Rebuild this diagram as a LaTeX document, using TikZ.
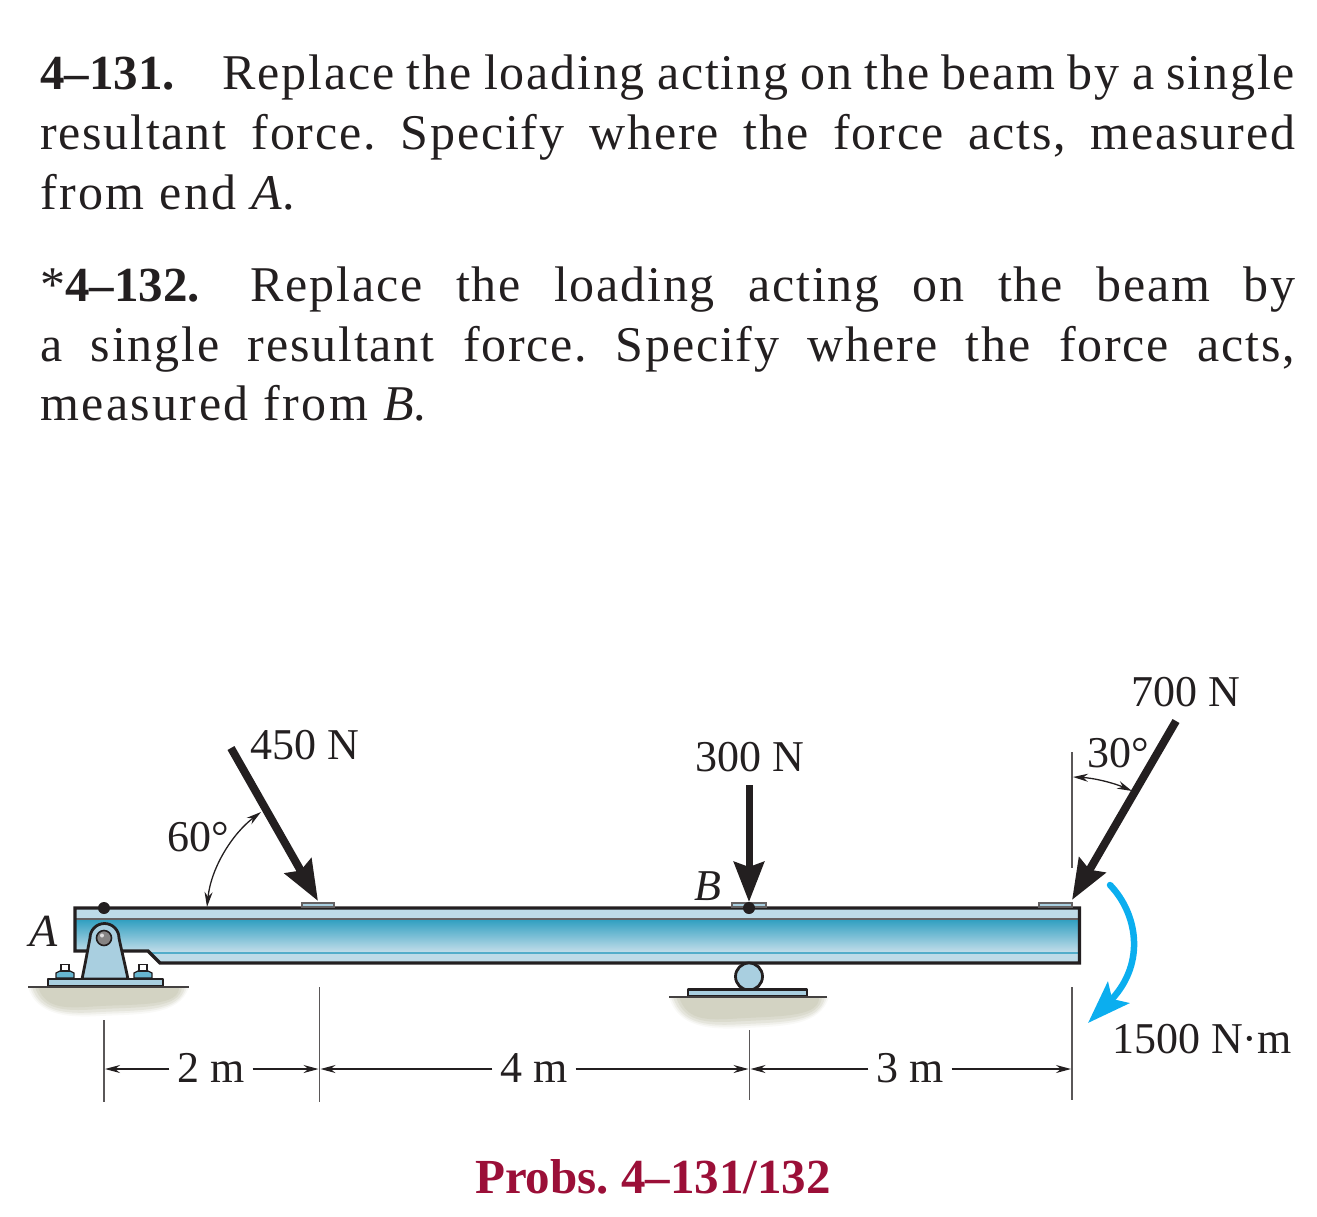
\documentclass[tikz,border=0pt]{standalone}
\usepackage{fontspec}
\setmainfont{Liberation Serif}
\newfontfamily\bodyfam[LetterSpace=3.6,Ligatures=TeX]{Liberation Serif}
\newfontfamily\bodywide[LetterSpace=4.9,Ligatures=TeX]{Liberation Serif}
\usetikzlibrary{arrows.meta}
\frenchspacing
\definecolor{ink}{HTML}{231F20}
\definecolor{lightblue}{HTML}{BDDBE8}
\definecolor{partblue}{HTML}{A9CFE0}
\definecolor{teal}{HTML}{2E9EC0}
\definecolor{momentblue}{HTML}{0BAEEF}
\definecolor{probred}{HTML}{9B0F38}
\definecolor{groundc}{HTML}{D3D3C3}
\newcommand{\bodyfont}{\bodyfam\fontsize{50}{60}\selectfont}
\newcommand{\widefont}{\bodywide\fontsize{50}{60}\selectfont}
\newcommand{\labfont}{\fontsize{44}{50}\selectfont}
\newcommand{\bhead}[1]{{\normalfont\fontsize{49}{60}\selectfont\bfseries #1}}
\newcommand{\jline}[3]{\node[txt] (#1) at (40,#2) {\bodyfont\makebox[1255pt][s]{#3}};}
\tikzset{
  txt/.style={anchor=base west,inner sep=0pt,outer sep=0pt,text=ink},
  lab/.style={txt,font=\labfont},
  dimlab/.style={anchor=base,inner sep=0pt,outer sep=8pt,text=ink,font=\labfont},
  part/.style={draw=ink,line width=2.8pt,fill=partblue,line join=round},
  force/.style={draw=ink,line width=8pt,-{Stealth[length=40pt,width=30pt,inset=5pt]}},
  thin arrows/.style={draw=ink,line width=1.3pt,{Stealth[length=15pt,width=8pt]}-{Stealth[length=15pt,width=8pt]}},
  dimline/.style={draw=ink,line width=1.3pt,-{Stealth[length=15pt,width=8pt]}},
  extline/.style={draw=ink!75,line width=1.6pt},
  groundline/.style={draw=ink!85,line width=1.8pt},
  dot/.style={circle,fill=ink,inner sep=0pt,minimum size=12pt}
}
\begin{document}
\begin{tikzpicture}[x=1pt,y=-1pt]
\useasboundingbox (0,0) rectangle (1317,1216);
% problem text
\jline{t1}{89}{\bhead{4--131.}\hspace{48pt}Replace the loading acting on the beam by a single}
\jline{t2}{149}{resultant force. Specify where the force acts, measured}
\node[txt] (t3) at (40,209) {\widefont from end \textit{A}.};
\jline{t4}{301}{*\bhead{4--132.}\hspace{51pt}Replace the loading acting on the beam by}
\jline{t5}{361}{a single resultant force. Specify where the force acts,}
\node[txt] (t6) at (40,420) {\widefont measured from \textit{B}.};
% ground
\foreach \d/\c in {0/14,2/34,4/58,7/82,10/100}{
  \fill[groundc!\c!white] (28+\d,987) .. controls (36+\d,1016-\d/2) and (70,1018-\d) .. (100,1016-\d) .. controls (140,1014-\d) and (180,1016-\d) .. (189-\d,987) -- cycle;
  \fill[groundc!\c!white] (669+\d,997) .. controls (678+\d,1028-\d/2) and (710,1030-\d) .. (745,1028-\d) .. controls (785,1026-\d) and (820,1026-\d) .. (829-\d,997) -- cycle;
}
% beam
\begin{scope}
  \clip (75,908) -- (1080,908) -- (1080,963) -- (160,963) -- (148,951) -- (75,951) -- cycle;
  \fill[lightblue] (70,900) rectangle (1085,970);
  \shade[top color=teal,bottom color=lightblue] (70,919) rectangle (1085,951);
  \fill[teal!75!lightblue] (70,951.5) rectangle (1085,954);
  \fill[ink!70] (70,918) rectangle (1085,919.5);
\end{scope}
\draw[ink,line width=3.4pt,line join=miter] (75,908) -- (1079.5,908) -- (1079.5,963) -- (160,963) -- (148,951) -- (75,951) -- cycle;
% pads
\draw[draw=ink!70,line width=1.5pt,fill=partblue] (302,907) rectangle (334,903);
\draw[draw=ink!70,line width=1.5pt,fill=partblue] (732,907) rectangle (766,903);
\draw[draw=ink!70,line width=1.5pt,fill=partblue] (1039,907) rectangle (1072,903);
% pin support A
\foreach \bx in {65,143}{
  \draw[draw=ink,line width=1.2pt,fill=teal!60!lightblue] (\bx-9,978) -- (\bx-9,973) -- (\bx-5,971) -- (\bx+5,971) -- (\bx+9,973) -- (\bx+9,978) -- cycle;
  \draw[draw=ink,line width=1.2pt,fill=white] (\bx-4,971) -- (\bx-4,964.5) -- (\bx+4,964.5) -- (\bx+4,971) -- cycle;
}
\draw[part] (82,979) .. controls (86,960) and (88,948) .. (90,938) arc[start angle=180,end angle=360,radius=14.5] .. controls (121,948) and (124,960) .. (128,979) -- cycle;
\node[circle,draw=ink,line width=1.6pt,fill=ink!55,minimum size=15pt,inner sep=0pt] (pin) at (104,938) {};
\fill[white!85!ink] (102,935.5) circle (2pt);
\draw[part] (48,979) rectangle (163,986);
\draw[groundline] (28,987) -- (189,987);
% roller support B
\node[circle,draw=ink,line width=2.8pt,fill=partblue,minimum size=27pt,inner sep=0pt] (roller) at (749,976.5) {};
\draw[part] (688,989.5) rectangle (807,996);
\draw[groundline] (669,997) -- (827,997);
% points
\node[dot] (ptA) at (104,908) {};
\node[dot] (ptB) at (749,908) {};
% forces
\coordinate (f1s) at (231,748); \coordinate (f1e) at (318,901);
\coordinate (f2s) at (749,785); \coordinate (f2e) at (749,902);
\coordinate (f3s) at (1176,721); \coordinate (f3e) at (1072,900);
\draw[force] (f1s) -- (f1e);
\draw[force,line width=7pt] (f2s) -- (f2e);
\draw[force] (f3s) -- (f3e);
% moment
\coordinate (m1) at (1110,885); \coordinate (m2) at (1088,1023);
\draw[draw=momentblue,line width=6.5pt,line cap=round,-{Stealth[length=43pt,width=30pt,inset=9pt]}] (m1) .. controls (1137,913) and (1146,962) .. (1112,999) -- (m2);
% angle arcs
\coordinate (a1) at (207,907); \coordinate (a2) at (261,812);
\coordinate (b1) at (1073,777); \coordinate (b2) at (1132,791);
\draw[thin arrows] (a1) .. controls (211,868) and (232,834) .. (a2);
\draw[thin arrows] (b1) .. controls (1094,778) and (1114,783) .. (b2);
% extension lines
\coordinate (e1a) at (104,1020); \coordinate (e1b) at (104,1102);
\coordinate (e2a) at (319.5,987); \coordinate (e2b) at (319.5,1102);
\coordinate (e3a) at (749.5,1030); \coordinate (e3b) at (749.5,1100);
\coordinate (e4a) at (1072,987); \coordinate (e4b) at (1072,1100);
\coordinate (e5a) at (1072,752); \coordinate (e5b) at (1072,868);
\draw[extline] (e1a) -- (e1b);
\draw[extline] (e2a) -- (e2b);
\draw[extline] (e3a) -- (e3b);
\draw[extline] (e4a) -- (e4b);
\draw[extline] (e5a) -- (e5b);
% dimensions
\node[dimlab] (d1) at (211,1082) {2 m};
\node[dimlab] (d2) at (534,1082) {4 m};
\node[dimlab] (d3) at (910,1082) {3 m};
\coordinate (l1) at (105,1069); \coordinate (r1) at (318.5,1069);
\coordinate (l2) at (320.5,1069); \coordinate (r2) at (748.5,1069);
\coordinate (l3) at (750.5,1069); \coordinate (r3) at (1071,1069);
\draw[dimline] (d1.west |- l1) -- (l1);
\draw[dimline] (d1.east |- r1) -- (r1);
\draw[dimline] (d2.west |- l2) -- (l2);
\draw[dimline] (d2.east |- r2) -- (r2);
\draw[dimline] (d3.west |- l3) -- (l3);
\draw[dimline] (d3.east |- r3) -- (r3);
% labels
\node[lab] (n450) at (250,759) {450 N};
\node[lab] (n300) at (695,771) {300 N};
\node[lab] (n700) at (1131,706) {700 N};
\node[lab] (n60) at (167,851) {60°};
\node[lab] (n30) at (1087,767) {30°};
\node[lab] (nB) at (694,900) {\textit{B}};
\node[lab,font=\fontsize{46}{50}\selectfont] (nA) at (29,946) {\textit{A}};
\node[lab] (n1500) at (1112,1053) {1500 N·m};
\node[anchor=base,inner sep=0pt,text=probred,font=\fontsize{49}{50}\selectfont\bfseries] (cap) at (653,1193) {Probs. 4--131/132};
\end{tikzpicture}
\end{document}
